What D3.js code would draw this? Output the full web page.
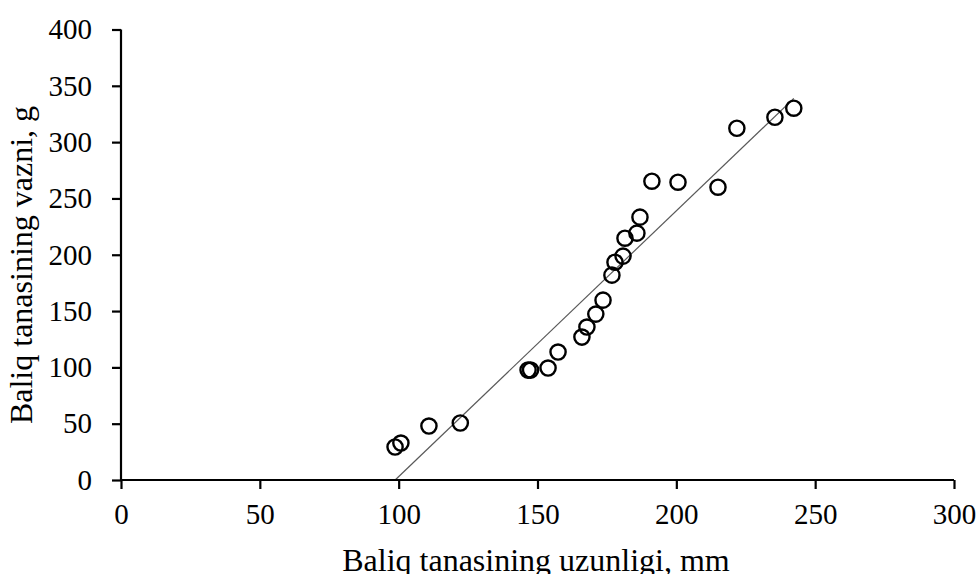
<!DOCTYPE html>
<html>
<head>
<meta charset="utf-8">
<script src="https://cdn.jsdelivr.net/npm/d3@7/dist/d3.min.js"></script>
<style>
html,body{margin:0;padding:0;background:#fff;}
svg{display:block;}
text{font-family:"Liberation Serif","Times New Roman",serif;fill:#000;}
</style>
</head>
<body>
<svg id="chart" width="980" height="574"></svg>
<script>
// Data: fish body length (mm) and weight (g)
const lengths = [98.7, 100.8, 110.9, 122.2, 146.6, 147.5, 153.8, 157.4, 166.0, 167.8, 171.0, 173.6,
                 176.8, 177.9, 180.8, 181.5, 185.8, 186.9, 191.2, 200.6, 215.0, 221.8, 235.5, 242.3];
const weights = [29.3, 32.8, 47.9, 50.6, 97.6, 97.6, 99.4, 113.6, 126.9, 135.8, 147.3, 159.7,
                 181.9, 193.4, 198.8, 214.7, 219.2, 233.4, 265.3, 264.4, 260.0, 312.3, 322.1, 330.1];
const xTicks = [0, 50, 100, 150, 200, 250, 300];
const yTicks = [0, 50, 100, 150, 200, 250, 300, 350, 400];
const trendSlope = 2.36;
const trendIntercept = -233;
const xTitle = "Baliq tanasining uzunligi, mm";
const yTitle = "Baliq tanasining vazni, g";

const svg = d3.select("#chart");
const x = d3.scaleLinear().domain([0, 300]).range([121, 954]);
const y = d3.scaleLinear().domain([0, 400]).range([480, 29.5]);

// Trend line (from min x to max x, clipped at y=0)
const xmin = d3.min(lengths), xmax = d3.max(lengths);
const x0 = Math.max(xmin, -trendIntercept / trendSlope);
svg.append("line")
  .attr("x1", x(x0)).attr("y1", y(trendSlope * x0 + trendIntercept))
  .attr("x2", x(xmax)).attr("y2", y(trendSlope * xmax + trendIntercept))
  .attr("stroke", "#595959").attr("stroke-width", 1.2);

// Axes
const xAxis = svg.append("g").attr("transform", "translate(0,480)")
  .call(d3.axisBottom(x).tickValues(xTicks).tickSize(9).tickPadding(14).tickFormat(d3.format("d")));
const yAxis = svg.append("g").attr("transform", "translate(121,0)")
  .call(d3.axisLeft(y).tickValues(yTicks).tickSize(9).tickPadding(20).tickFormat(d3.format("d")));
[xAxis, yAxis].forEach(g => {
  g.select(".domain").attr("stroke", "#000").attr("stroke-width", 2.2);
  g.selectAll(".tick line").attr("stroke", "#000").attr("stroke-width", 2.2);
  g.selectAll(".tick text").style("font-family", '"Liberation Serif", serif').style("font-size", "29px").attr("fill", "#000");
});
xAxis.select(".domain").attr("d", `M${x(0)},0H${x(300)}`);
yAxis.select(".domain").attr("d", `M0,${y(0)}V${y(400)}`);

// Points
svg.append("g").selectAll("circle")
  .data(lengths.map((l, i) => [l, weights[i]]))
  .join("circle")
  .attr("cx", d => x(d[0])).attr("cy", d => y(d[1]))
  .attr("r", 7.6)
  .attr("fill", "none").attr("stroke", "#000").attr("stroke-width", 2.4);

// Titles
svg.append("text").attr("x", 536).attr("y", 571).attr("text-anchor", "middle")
  .style("font-size", "32px").text(xTitle);
svg.append("text").attr("transform", "translate(32,265) rotate(-90)").attr("text-anchor", "middle")
  .style("font-size", "32px").text(yTitle);
</script>
</body>
</html>
